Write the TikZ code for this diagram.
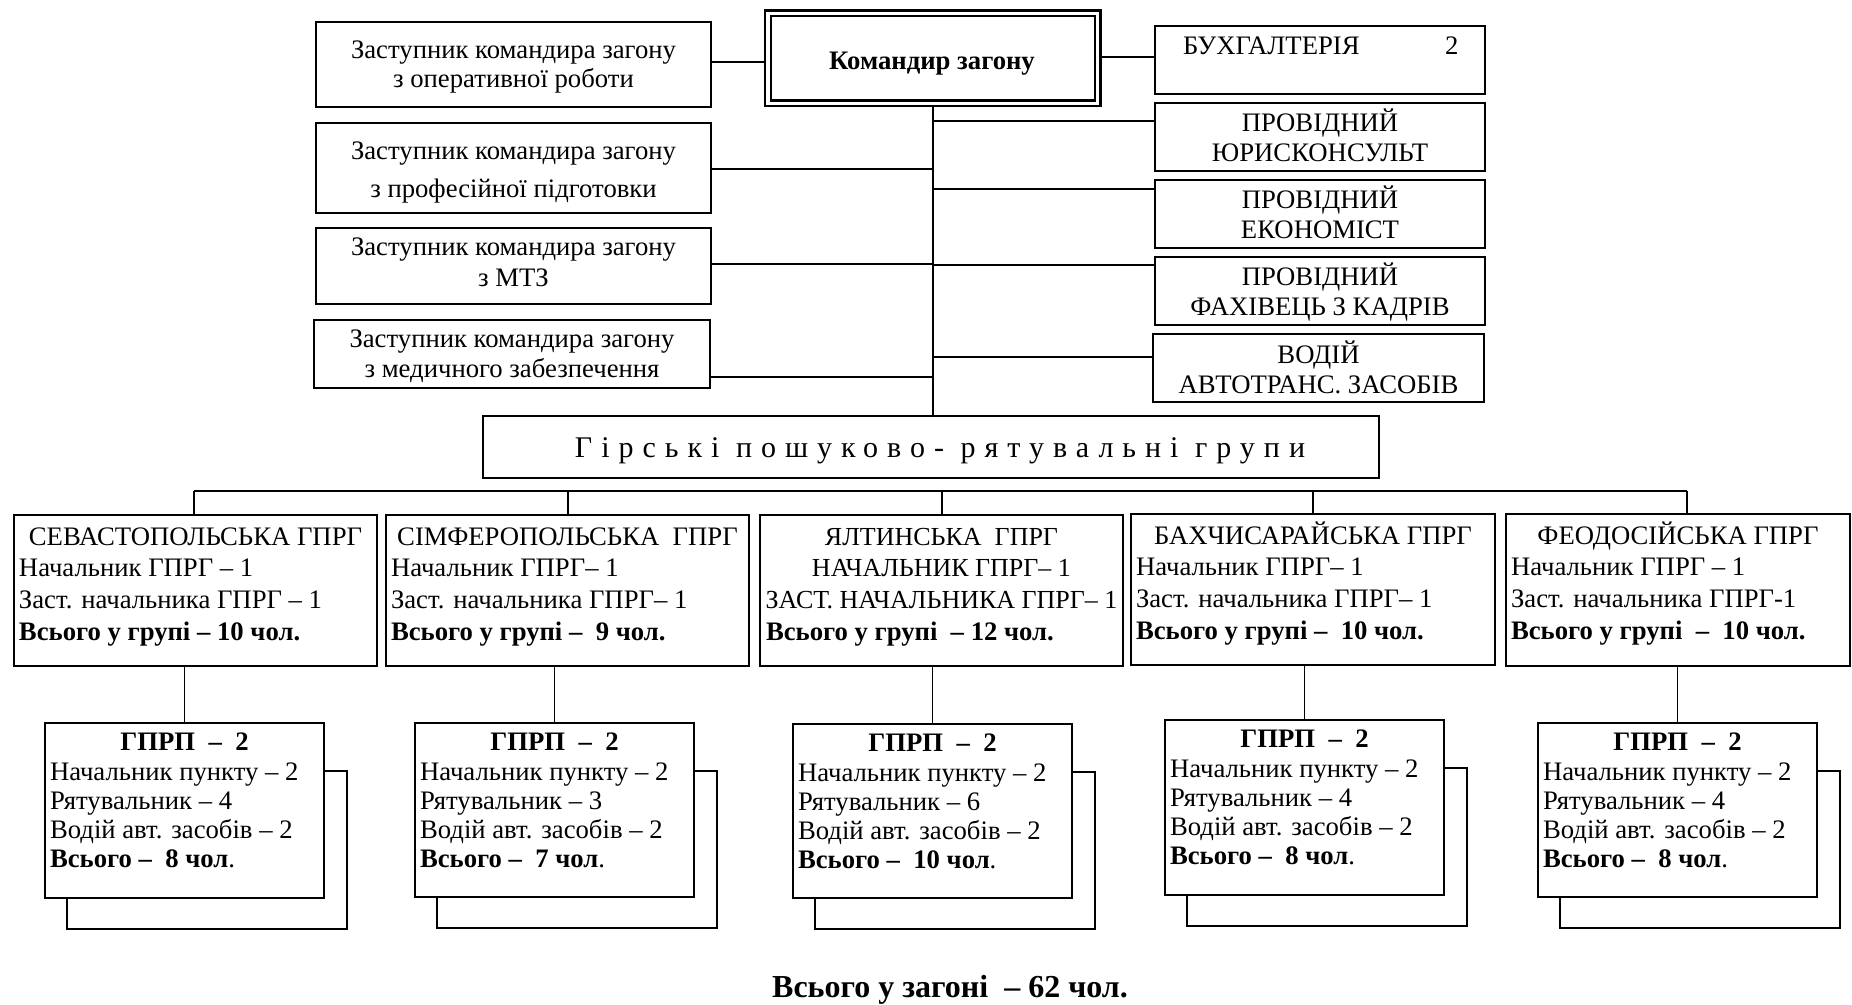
\documentclass[tikz,border=0pt]{standalone}
\usepackage{fontspec}
\setmainfont{Liberation Serif}
\newfontfamily\spacedfont[LetterSpace=30]{Liberation Serif}
\newcommand\mybox[5]{\node[boxn,minimum width={(#4-#2)*1pt},minimum height={(#5-#3)*1pt}] (#1) at ({(#2+#4)/2},{(#3+#5)/2}) {};}
\newcommand\txc[4]{\node[txt,anchor=base] (#1) at (#2,#3) {#4};}
\newcommand\txw[4]{\node[txt,anchor=base west] (#1) at (#2,#3) {#4};}
\newcommand\gshadow[1]{\draw[lnk] ([yshift=-48pt]#1.north east) -| ([xshift=23pt,yshift=-31pt]#1.south east) -| ([xshift=22pt]#1.south west);}
% name x1 y1 x2 y2 title l2 l3 l4
\newcommand\gprgbox[9]{%
  \mybox{#1}{#2}{#3}{#4}{#5}
  \txc{#1-t}{{(#2+#4)/2}}{{#3+30}}{#6}
  \txw{#1-a}{{#2+5}}{{#3+61}}{#7}
  \txw{#1-b}{{#2+5}}{{#3+93}}{#8}
  \txw{#1-c}{{#2+5}}{{#3+125}}{#9}}
% name x1 y1 x2 y2 rescuers total
\newcommand\gprpbox[7]{%
  \mybox{#1}{#2}{#3}{#4}{#5}
  \txc{#1-t}{{(#2+#4)/2}}{{#3+27}}{\bfseries ГПРП\ \ –\ \ 2}
  \txw{#1-a}{{#2+5}}{{#3+57}}{Начальник пункту – 2}
  \txw{#1-b}{{#2+5}}{{#3+86}}{Рятувальник – #6}
  \txw{#1-c}{{#2+5}}{{#3+115}}{Водій авт. засобів – 2}
  \txw{#1-d}{{#2+5}}{{#3+144}}{{\bfseries Всього –\ \ #7 чол}.}
  \gshadow{#1}}
\begin{document}
\begin{tikzpicture}[x=1pt,y=-1pt,font=\fontsize{26.7}{30}\selectfont,
  boxn/.style={draw,line width=2pt,inner sep=0pt,outer sep=0pt},
  lnk/.style={line width=2pt},
  thinlnk/.style={line width=1.6pt},
  txt/.style={inner sep=0pt,outer sep=0pt}]
\useasboundingbox (0,0) rectangle (1852,1004);

% ---- commander
\node[draw,double,double distance=3.5pt,line width=2.3pt,inner sep=0pt,outer sep=4.05pt,
      minimum width=329.6pt,minimum height=89.9pt] (kom) at (932.9,58.3) {};
\txc{komt}{932}{69}{\bfseries Командир загону}

% ---- deputies (left)
\mybox{zasta}{316}{22}{711}{107}
\txc{zasta1}{513.5}{58}{Заступник командира загону}
\txc{zasta2}{513.5}{87}{з оперативної роботи}
\mybox{zastb}{316}{123}{711}{213}
\txc{zastb1}{513.5}{159}{Заступник командира загону}
\txc{zastb2}{513.5}{197}{з професійної підготовки}
\mybox{zastc}{316}{228}{711}{304}
\txc{zastc1}{513.5}{255}{Заступник командира загону}
\txc{zastc2}{513.5}{286}{з МТЗ}
\mybox{zastd}{314}{320}{710}{388}
\txc{zastd1}{512}{347}{Заступник командира загону}
\txc{zastd2}{512}{377}{з медичного забезпечення}

% ---- staff (right)
\mybox{bukh}{1155}{26}{1485}{94}
\txw{bukht}{1183}{54}{\makebox[262pt][l]{БУХГАЛТЕРІЯ}2}
\mybox{yur}{1155}{103}{1485}{171}
\txc{yur1}{1320}{131}{ПРОВІДНИЙ}
\txc{yur2}{1320}{161}{ЮРИСКОНСУЛЬТ}
\mybox{econ}{1155}{180}{1485}{248}
\txc{econ1}{1320}{208}{ПРОВІДНИЙ}
\txc{econ2}{1320}{238}{ЕКОНОМІСТ}
\mybox{kadr}{1155}{257}{1485}{325}
\txc{kadr1}{1320}{285}{ПРОВІДНИЙ}
\txc{kadr2}{1320}{315}{ФАХІВЕЦЬ З КАДРІВ}
\mybox{vod}{1153}{334}{1484}{402}
\txc{vod1}{1318.5}{363}{ВОДІЙ}
\txc{vod2}{1318.5}{393}{АВТОТРАНС. ЗАСОБІВ}

% ---- groups header
\mybox{gprg}{483}{416}{1379}{478}
\txc{gprgt}{940}{457}{\fontsize{30}{34}\spacedfont Гірські пошуково- рятувальні групи}

% ---- top connectors
\draw[lnk] (zasta.east |- 0,62) -- (kom.west |- 0,62);
\draw[lnk] (kom.east |- 0,57) -- (bukh.west |- 0,57);
\draw[lnk] (kom.south) -- (kom.south |- gprg.north);
\draw[lnk] (zastb.east |- 0,169) -- (kom.south |- 0,169);
\draw[lnk] (zastc.east |- 0,264) -- (kom.south |- 0,264);
\draw[lnk] (zastd.east |- 0,377) -- (kom.south |- 0,377);
\draw[lnk] (kom.south |- 0,121) -- (yur.west |- 0,121);
\draw[lnk] (kom.south |- 0,189) -- (econ.west |- 0,189);
\draw[lnk] (kom.south |- 0,265) -- (kadr.west |- 0,265);
\draw[lnk] (kom.south |- 0,357) -- (vod.west |- 0,357);

% ---- groups
\gprgbox{sev}{14}{515}{377}{666}{СЕВАСТОПОЛЬСЬКА ГПРГ}{Начальник ГПРГ – 1}{Заст. начальника ГПРГ – 1}{\bfseries Всього у групі – 10 чол.}
\gprgbox{simf}{386}{515}{749}{666}{СІМФЕРОПОЛЬСЬКА\ \ ГПРГ}{Начальник ГПРГ– 1}{Заст. начальника ГПРГ– 1}{\bfseries Всього у групі –\ \ 9 чол.}
\mybox{yal}{760}{515}{1123}{666}
\txc{yal-t}{941.5}{545}{\fontsize{26}{30}\selectfont ЯЛТИНСЬКА\ \ ГПРГ}
\txc{yal-a}{941.5}{576}{\fontsize{26}{30}\selectfont НАЧАЛЬНИК ГПРГ– 1}
\txc{yal-b}{941.5}{608}{\fontsize{26}{30}\selectfont ЗАСТ. НАЧАЛЬНИКА ГПРГ– 1}
\txw{yal-c}{766}{640}{\bfseries Всього у групі\ \ – 12 чол.}
\gprgbox{bakh}{1131}{514}{1495}{665}{БАХЧИСАРАЙСЬКА ГПРГ}{Начальник ГПРГ– 1}{Заст. начальника ГПРГ– 1}{\bfseries Всього у групі –\ \ 10 чол.}
\gprgbox{feod}{1506}{514}{1850}{666}{ФЕОДОСІЙСЬКА ГПРГ}{Начальник ГПРГ – 1}{Заст. начальника ГПРГ-1}{\bfseries Всього у групі\ \ –\ \ 10 чол.}

% ---- bus
\coordinate (busL) at (194,491);
\coordinate (busR) at (1687,491);
\draw[lnk] (busL) -- (busR);
\draw[lnk] (busL) -- (busL |- sev.north);
\draw[lnk] (simf.north |- busL) -- (simf.north);
\draw[lnk] (yal.north |- busL) -- (yal.north);
\draw[lnk] (bakh.north |- busL) -- (bakh.north);
\draw[lnk] (busR) -- (busR |- feod.north);

% ---- posts
\gprpbox{ga}{45}{723}{324}{898}{4}{8}
\gprpbox{gb}{415}{723}{694}{897}{3}{7}
\gprpbox{gc}{793}{724}{1072}{898}{6}{10}
\gprpbox{gd}{1165}{720}{1444}{895}{4}{8}
\gprpbox{ge}{1538}{723}{1817}{897}{4}{8}
\draw[thinlnk] (ga.north |- sev.south) -- (ga.north);
\draw[thinlnk] (gb.north |- simf.south) -- (gb.north);
\draw[thinlnk] (gc.north |- yal.south) -- (gc.north);
\draw[thinlnk] (gd.north |- bakh.south) -- (gd.north);
\draw[thinlnk] (ge.north |- feod.south) -- (ge.north);

% ---- total
\txc{total}{950}{997}{\fontsize{32}{36}\selectfont\bfseries Всього у загоні\ \ – 62 чол.}
\end{tikzpicture}
\end{document}
